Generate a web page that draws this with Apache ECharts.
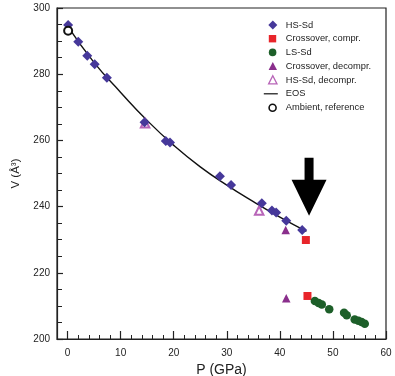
<!DOCTYPE html>
<html>
<head>
<meta charset="utf-8">
<script src="https://cdn.jsdelivr.net/npm/echarts@6/dist/echarts.min.js"></script>
<style>
  html, body { margin: 0; padding: 0; background: #fff; }
  #chart { width: 395px; height: 376px; }
</style>
</head>
<body>
<div id="chart"></div>
<script>
// values
const hsP = [0.1, 2.0, 3.7, 5.1, 7.4, 14.5, 18.5, 19.3, 28.7, 30.8, 36.6, 38.5, 39.3, 41.2, 44.2]
const hsV = [294.9, 289.8, 285.6, 283.0, 278.9, 265.5, 259.8, 259.4, 249.2, 246.5, 241.0, 238.8, 238.2, 235.7, 232.9]
const crossComprP = [44.9, 45.2]
const crossComprV = [229.9, 213.0]
const lsP = [46.6, 47.3, 47.9, 49.3, 52.1, 52.6, 54.1, 54.8, 55.4, 56.0]
const lsV = [211.5, 210.9, 210.4, 209.0, 207.9, 207.2, 205.9, 205.5, 205.1, 204.6]
const crossDecomprP = [41.1, 41.2]
const crossDecomprV = [232.9, 212.3]
const hsDecomprP = [36.1, 14.6]
const hsDecomprV = [238.8, 265.2]
const eosP = [0, 5, 10, 15, 20, 25, 30, 35, 40, 45]
const eosV = [294.5, 283.5, 274.5, 266, 258.5, 252, 246.5, 241.5, 236.8, 232.5]
const ambientP = [0.1]
const ambientV = [293.1]
const arrowAt = [45.5, 246] // where the big arrow sits (P, V)

const xMajorTicks = [0, 10, 20, 30, 40, 50, 60]
const xMinorTicks = [2, 4, 6, 8, 12, 14, 16, 18, 22, 24, 26, 28, 32, 34, 36, 38, 42, 44, 46, 48, 52, 54, 56, 58]

const zip = (a, b) => a.map((v, i) => [v, b[i]])

const font = 'Liberation Sans'
const chart = echarts.init(document.getElementById('chart'))

const arrowPath = 'path://M13,0 L22,0 L22,22 L35,22 L17.5,58 L0,22 L13,22 Z'
// legend icons padded to the 14x9 legend box so they don't get stretched
const icons = {
  diamond: 'path://M0,0 M14,9 M9,0 L13.5,4.5 L9,9 L4.5,4.5 Z',
  square: 'path://M0,0 M14,9 M5,0.8 L12.4,0.8 L12.4,8.2 L5,8.2 Z',
  triangle: 'path://M0,0 M14,9 M9,0.3 L13.2,8.5 L4.8,8.5 Z',
  line: 'path://M0,0 M14,9 M0,3.9 L14,3.9 L14,5.1 L0,5.1 Z',
}

chart.setOption({
  animation: false,
  backgroundColor: '#fff',
  textStyle: { fontFamily: font },
  grid: {
    left: 57, right: 9, top: 8, bottom: 37,
    outerBoundsMode: 'none',
    show: true, borderColor: '#222', borderWidth: 1.2,
  },
  legend: {
    orient: 'vertical',
    left: 258,
    top: 15,
    itemWidth: 14,
    itemHeight: 9,
    itemGap: 3.7,
    textStyle: { fontSize: 9.3, lineHeight: 10, color: '#222', fontFamily: font, padding: [0, 0, 0, 3] },
    data: [
      { name: 'HS-Sd', icon: icons.diamond },
      { name: 'Crossover, compr.', icon: icons.square },
      { name: 'LS-Sd', icon: 'path://M0,0 M14,9 M5,4.5 A3.8,3.8 0 1 1 12.6,4.5 A3.8,3.8 0 1 1 5,4.5 Z' },
      { name: 'Crossover, decompr.', icon: icons.triangle },
      { name: 'HS-Sd, decompr.', icon: icons.triangle, itemStyle: { color: '#fff', borderColor: '#b865b8', borderWidth: 1.3 } },
      { name: 'EOS', icon: icons.line, itemStyle: { color: '#111' } },
      { name: 'Ambient, reference', icon: 'path://M0,0 M14,9 M5.3,4.5 A3.5,3.5 0 1 1 12.3,4.5 A3.5,3.5 0 1 1 5.3,4.5 Z', itemStyle: { color: '#fff', borderColor: '#111', borderWidth: 1.6 } },
    ],
  },
  xAxis: [
    {
      type: 'value', min: -2, max: 60,
      name: 'P (GPa)', nameLocation: 'middle', nameGap: 22,
      nameTextStyle: { fontSize: 14, color: '#222', fontFamily: font },
      splitLine: { show: false },
      axisLine: { lineStyle: { color: '#222', width: 1.2 } },
      axisTick: { inside: true, length: 8, customValues: xMajorTicks, lineStyle: { color: '#222', width: 1.2 } },
      axisLabel: { customValues: xMajorTicks, fontSize: 10, color: '#222', margin: 9 },
    },
    {
      type: 'value', min: -2, max: 60, position: 'bottom',
      splitLine: { show: false },
      axisLine: { show: false },
      axisTick: { inside: true, length: 4, customValues: xMinorTicks, lineStyle: { color: '#222', width: 1 } },
      axisLabel: { show: false },
    },
  ],
  yAxis: {
    type: 'value', min: 200, max: 300, interval: 20,
    name: 'V (Å³)', nameLocation: 'middle', nameGap: 35,
    nameTextStyle: { fontSize: 11.5, color: '#222', fontFamily: font },
    splitLine: { show: false },
    axisLine: { onZero: false, lineStyle: { color: '#222', width: 1.2 } },
    axisTick: { inside: true, length: 6, lineStyle: { color: '#222', width: 1.2 } },
    minorTick: { show: true, splitNumber: 4, length: 5, lineStyle: { color: '#222', width: 1 } },
    axisLabel: { fontSize: 10, color: '#222', margin: 7 },
  },
  series: [
    {
      name: 'EOS', type: 'line', smooth: true, symbol: 'none',
      data: zip(eosP, eosV),
      lineStyle: { color: '#111', width: 1.4 },
      itemStyle: { color: '#111' },
      z: 1,
      markPoint: {
        symbol: arrowPath,
        symbolSize: [35, 58],
        itemStyle: { color: '#000' },
        label: { show: false },
        data: [{ coord: arrowAt }],
      },
    },
    {
      name: 'HS-Sd', type: 'scatter', symbol: 'diamond', symbolSize: 10,
      data: zip(hsP, hsV),
      itemStyle: { color: '#46389a', opacity: 1 },
      z: 3,
    },
    {
      name: 'Crossover, compr.', type: 'scatter', symbol: 'rect', symbolSize: 8,
      data: zip(crossComprP, crossComprV),
      itemStyle: { color: '#e8252a', opacity: 1 },
      z: 3,
    },
    {
      name: 'LS-Sd', type: 'scatter', symbol: 'circle', symbolSize: 8.5,
      data: zip(lsP, lsV),
      itemStyle: { color: '#1d5f29', opacity: 1 },
      z: 3,
    },
    {
      name: 'Crossover, decompr.', type: 'scatter', symbol: 'triangle', symbolSize: 8.5,
      data: zip(crossDecomprP, crossDecomprV),
      itemStyle: { color: '#8a2f8c', opacity: 1 },
      z: 3,
    },
    {
      name: 'HS-Sd, decompr.', type: 'scatter', symbol: 'emptyTriangle', symbolSize: 8.5,
      data: zip(hsDecomprP, hsDecomprV),
      itemStyle: { color: '#b865b8', borderWidth: 1.3, opacity: 1 },
      z: 2,
    },
    {
      name: 'Ambient, reference', type: 'scatter', symbol: 'emptyCircle', symbolSize: 8,
      data: zip(ambientP, ambientV),
      itemStyle: { color: '#111', borderWidth: 1.6, opacity: 1 },
      z: 4,
    },
  ],
})
</script>
</body>
</html>
